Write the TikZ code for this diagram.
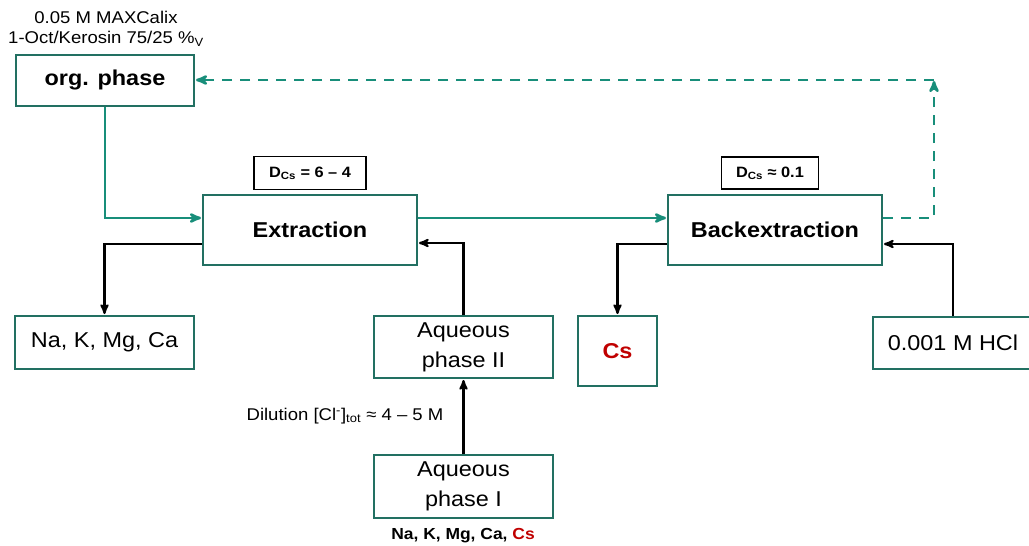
\documentclass[tikz,border=0pt]{standalone}
\usepackage{fontspec}
\setmainfont{Liberation Sans}[FakeStretch=1.09]
\usepackage{tikz}
\usetikzlibrary{arrows}
\definecolor{flowteal}{RGB}{24,142,122}
\definecolor{boxteal}{RGB}{34,112,98}
\definecolor{csred}{RGB}{192,0,0}

\begin{document}
\begin{tikzpicture}[x=1pt,y=-1pt,>=stealth',shorten >=1pt,
      main node/.style={rectangle,draw=boxteal,line width=2pt,inner sep=0pt,align=center,font=\fontsize{21.5}{30}\selectfont},
      bold node/.style={main node,font=\fontsize{21.5}{26}\selectfont\bfseries},
      d node/.style={rectangle,draw=black,line width=1.6pt,inner sep=0pt,font=\fontsize{15}{18}\selectfont\bfseries},
      flow/.style={->,draw=flowteal,line width=2.6pt},
      plain line/.style={->,draw=black,line width=2.2pt}]

    \useasboundingbox (0,0) rectangle (1029,546);

    \node[bold node,minimum width=178pt,minimum height=51pt] (org) at (105,80) {org. phase};
    \node[align=center,font=\fontsize{17}{20}\selectfont] (calix) at (106,29) {0.05 M MAXCalix\\1-Oct/Kerosin 75/25 \%\textsubscript{V}};

    \node[bold node,minimum width=214pt,minimum height=70pt] (extr) at (310,230) {Extraction};
    \node[bold node,minimum width=214pt,minimum height=70pt] (backx) at (775,230) {Backextraction};
    \node[d node,minimum width=112pt,minimum height=33pt] (dext) at (310,173) {D\textsubscript{Cs} = 6 – 4};
    \node[d node,minimum width=97pt,minimum height=32pt] (dback) at (770,173) {D\textsubscript{Cs} ≈ 0.1};

    \node[main node,minimum width=179pt,minimum height=53pt] (alk) at (104.5,342.5) {Na, K, Mg, Ca};
    \node[main node,minimum width=179pt,minimum height=62pt] (aq2) at (463.5,347) {Aqueous\\phase II};
    \node[bold node,minimum width=79pt,minimum height=70pt,text=csred] (cs) at (617.5,351) {Cs};
    \node[main node,minimum width=160pt,minimum height=52pt] (hcl) at (953,342.5) {0.001 M HCl};
    \node[main node,minimum width=179pt,minimum height=63pt] (aq1) at (463.5,486.5) {Aqueous\\phase I};

    \node[font=\fontsize{17}{20}\selectfont] (dil) at (345,416) {Dilution [Cl\textsuperscript{-}]\textsubscript{tot} ≈ 4 – 5 M};
    \node[font=\fontsize{16}{20}\selectfont\bfseries] (feed) at (463,536) {Na, K, Mg, Ca, \textcolor{csred}{Cs}};

    % organic loop
    \draw[flow] (org.south) |- ([yshift=12pt]extr.west);
    \draw[flow] ([yshift=12pt]extr.east) -- ([yshift=12pt]backx.west);
    \coordinate (turn) at (934,80);
    \draw[flow,dash pattern=on 10pt off 8pt] ([yshift=12pt]backx.east) -| (turn);
    \draw[flow,dash pattern=on 10pt off 8pt] (turn) -- (org.east);

    % aqueous side
    \draw[plain line] ([yshift=-14pt]extr.west) -| (alk.north);
    \draw[plain line] (aq2.north) |- ([yshift=-13pt]extr.east);
    \draw[plain line] (aq1.north) -- (aq2.south);
    \draw[plain line] ([yshift=-14pt]backx.west) -| (cs.north);
    \draw[plain line] (hcl.north) |- ([yshift=-14pt]backx.east);
\end{tikzpicture}
\end{document}
